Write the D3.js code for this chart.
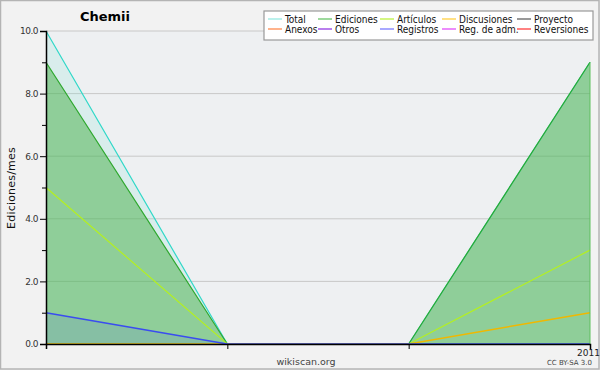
<!DOCTYPE html>
<html><head><meta charset="utf-8">
<script src="https://cdn.jsdelivr.net/npm/d3@7"></script>
<style>body{margin:0;background:#f2f2f2}svg{display:block}text{font-family:"DejaVu Sans",sans-serif}</style>
</head><body><svg id="c" width="600" height="370"></svg>
<script>
const months = [0, 1, 2, 3];
const xTickLabels = ["", "", "", "2011"];
const total = [10, 0, 0, 9];
const ediciones = [9, 0, 0, 9];
const articulos = [5, 0, 0, 3];
const discusiones = [0, 0, 0, 1];
const registros = [1, 0, 0, 0];
const yTicks = [0, 2, 4, 6, 8, 10];
const legendNames = ["Total","Ediciones","Artículos","Discusiones","Proyecto","Anexos","Otros","Registros","Reg. de adm.","Reversiones"];
const legendColors = ["#8ee8e0","#5cc05c","#b8f030","#ffcc33","#555555","#ff8040","#8a2be2","#7070ff","#e040fb","#ff3030"];

const svg = d3.select("#c");
const W = 600, H = 370;
const m = {l:46, r:590, t:31, b:344};
svg.append("rect").attr("x",0.5).attr("y",0.5).attr("width",W-1.5).attr("height",H-1.5).attr("fill","#f2f2f2").attr("stroke","#b4b4b4").attr("stroke-width",1.5);
const x = d3.scaleLinear().domain([0,3]).range([m.l,m.r]);
const y = d3.scaleLinear().domain([0,10]).range([m.b,m.t]);
svg.append("rect").attr("x",m.l).attr("y",m.t).attr("width",m.r-m.l).attr("height",m.b-m.t).attr("fill","#eef0f2");
svg.append("g").selectAll("line").data(yTicks.slice(1)).join("line")
  .attr("x1",m.l).attr("x2",m.r).attr("y1",d=>y(d)).attr("y2",d=>y(d)).attr("stroke","#c8c8c8").attr("stroke-width",1);

const area = v => d3.area().x((d,i)=>x(months[i])).y0(y(0)).y1(d=>y(d))(v);
const line = v => d3.line().x((d,i)=>x(months[i])).y(d=>y(d))(v);

svg.append("path").attr("d",area(total)).attr("fill","rgba(120,230,210,0.18)");
svg.append("path").attr("d",area(ediciones)).attr("fill","rgba(70,175,70,0.5)");
svg.append("path").attr("d",area(registros)).attr("fill","rgba(90,110,230,0.15)");

svg.append("path").attr("d",line(total)).attr("fill","none").attr("stroke","#30d8c8").attr("stroke-width",1.2);
svg.append("path").attr("d",line(ediciones)).attr("fill","none").attr("stroke","#2ea82e").attr("stroke-width",1.2);
svg.append("path").attr("d",line(articulos)).attr("fill","none").attr("stroke","#b4f020").attr("stroke-width",1.2);
svg.append("path").attr("d",line(discusiones)).attr("fill","none").attr("stroke","#f0b800").attr("stroke-width",1.5);
svg.append("path").attr("d",line(registros)).attr("fill","none").attr("stroke","#3a4cf0").attr("stroke-width",1.5);
svg.append("line").attr("x1",m.r).attr("x2",m.r).attr("y1",y(ediciones[3])).attr("y2",y(0)).attr("stroke","#5cbf5c").attr("stroke-width",1);

const yAxis = d3.axisLeft(y).tickValues(yTicks).tickFormat(d3.format(".1f")).tickSize(6).tickPadding(2);
const gy = svg.append("g").attr("transform",`translate(${m.l},0)`).call(yAxis);
gy.select(".domain").attr("stroke","#000").attr("stroke-width",1.5);
gy.selectAll("text").attr("fill","#333").style("font-size","9px").style("letter-spacing","-0.5px");
const yMinor = d3.axisLeft(y).tickValues(d3.range(1,10,2)).tickFormat("").tickSize(4);
const gym = svg.append("g").attr("transform",`translate(${m.l},0)`).call(yMinor);
gym.select(".domain").remove();
const xAxis = d3.axisBottom(x).tickValues(months).tickFormat((d,i)=>xTickLabels[i]).tickSize(5).tickPadding(1);
const gx = svg.append("g").attr("transform",`translate(0,${m.b})`).call(xAxis);
gx.select(".domain").attr("stroke","#000").attr("stroke-width",1.5);
gx.selectAll("text").attr("fill","#222").style("font-size","9px").attr("dx","-2");

svg.append("text").attr("x",105).attr("y",21).attr("text-anchor","middle").style("font-weight","bold").style("font-size","13px").text("Chemii");
svg.append("text").attr("transform","translate(15,188) rotate(-90)").attr("text-anchor","middle").style("font-size","11px").style("letter-spacing","0.2px").attr("fill","#111").text("Ediciones/mes");
svg.append("text").attr("x",306).attr("y",365).attr("text-anchor","middle").style("font-size","9.5px").attr("fill","#444").text("wikiscan.org");
svg.append("text").attr("x",592).attr("y",365).attr("text-anchor","end").style("font-size","7px").attr("fill","#444").text("CC BY-SA 3.0");

const lg = svg.append("g");
lg.append("rect").attr("x",264).attr("y",11).attr("width",329).attr("height",29).attr("fill","#fff").attr("stroke","#999").attr("stroke-width",1.2);
const colX = [268, 318, 380, 442, 517];
legendNames.forEach((n,i)=>{
  const cx = colX[i%5], cy = i<5 ? 19 : 29;
  lg.append("line").attr("x1",cx).attr("x2",cx+14).attr("y1",cy).attr("y2",cy).attr("stroke",legendColors[i]).attr("stroke-width",1.2);
  lg.append("text").attr("x",cx+17).attr("y",cy+4).style("font-family","'DejaVu Sans Condensed','DejaVu Sans',sans-serif").style("font-size","10px").attr("fill","#111").text(n);
});
</script></body></html>
